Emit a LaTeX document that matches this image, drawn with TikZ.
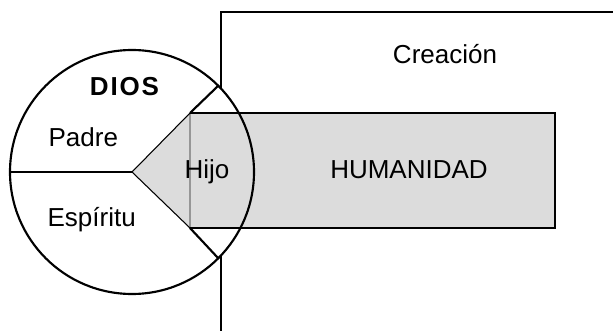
\documentclass[tikz,border=0pt]{standalone}
\usepackage{fontspec}
\setmainfont{Liberation Sans}
\definecolor{humgray}{RGB}{220,220,220}
\definecolor{edgegray}{RGB}{150,150,150}
\begin{document}
\begin{tikzpicture}[x=0.75pt,y=-0.75pt,
  heavy/.style={line width=1.6pt},
  light/.style={line width=0.8pt},
  word/.style={font=\fontsize{19.5}{23}\selectfont, inner sep=0pt, anchor=base},
  godcircle/.style={circle, minimum size=183pt, inner sep=0pt, outer sep=0pt}
]
\useasboundingbox (0,0) rectangle (613,331);
\clip (0,0) rectangle (613,331);

% corners of the creation frame and of the humanity band
\coordinate (f1) at (625,12);
\coordinate (f2) at (221,12);
\coordinate (f3) at (221,345);
\coordinate (tl) at (190,113);
\coordinate (tr) at (555,113);
\coordinate (br) at (555,228);
\coordinate (bl) at (190,228);

% creation frame
\draw[heavy] (f1) -- (f2) -- (f3);

% white disc of God, hiding the frame behind it
\node[godcircle, fill=white] (dios) at (132,172) {};

% the Son reaching out into humanity
\fill[humgray] (dios.center) -- (tl) -- (tr) -- (br) -- (bl) -- cycle;
\draw[light, edgegray] (tl) -- (bl);
\draw[light] (tl) -- (dios.center) -- (bl);
\draw[heavy] (tl) -- (tr) -- (br) -- (bl);

% outline and dividing lines of the circle
\node[godcircle, draw, heavy] (ring) at (dios.center) {};
\draw[heavy] (ring.west) -- (dios.center);
\draw[heavy] (tl) -- (ring.45);
\draw[heavy] (bl) -- (ring.-45);

% labels
\node[word] (creacion) at (445,64) {Creación};
\node[word] (humanidad) at (409,179) {HUMANIDAD};
\node[word] (hijo) at (207,179) {Hijo};
\node[word, font=\fontsize{19.5}{23}\selectfont\bfseries\addfontfeature{LetterSpace=7}] (diosl) at (124.5,96) {DIOS};
\node[word] (padre) at (83.3,147) {Padre};
\node[word] (espiritu) at (91.7,227) {Espíritu};
\end{tikzpicture}
\end{document}
